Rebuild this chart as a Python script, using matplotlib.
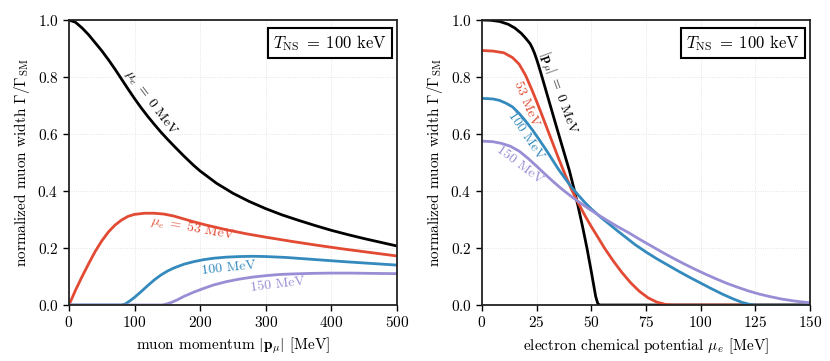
import matplotlib
matplotlib.use("Agg")
import matplotlib.pyplot as plt

plt.rcParams["font.family"] = "serif"
plt.rcParams["font.serif"] = ["cmr10", "DejaVu Serif"]
plt.rcParams["mathtext.fontset"] = "cm"
plt.rcParams["axes.formatter.use_mathtext"] = True

red = "#E24A33"
blue = "#348ABD"
purple = "#988ED5"

# left panel: width vs muon momentum, for mu_e = 0, 53, 100, 150 MeV
p0 = [0, 10, 20, 30, 40, 50, 60, 70, 80, 90, 100, 110, 120, 130, 140, 150, 160, 175, 190, 200,
      225, 250, 275, 300, 325, 350, 375, 400, 425, 450, 475, 500]
w0 = [1.0, 0.992, 0.972, 0.948, 0.92, 0.892, 0.861, 0.828, 0.793, 0.758, 0.724, 0.692, 0.662, 0.634, 0.607, 0.582, 0.558, 0.523, 0.49, 0.47,
      0.427, 0.392, 0.363, 0.338, 0.316, 0.297, 0.279, 0.262, 0.247, 0.233, 0.22, 0.207]
p53 = [0, 10, 20, 30, 40, 50, 60, 70, 80, 90, 100, 115, 130, 145, 160, 175, 190, 210, 240, 270,
       300, 340, 380, 420, 460, 500]
w53 = [0.0, 0.052, 0.1, 0.145, 0.188, 0.225, 0.256, 0.28, 0.298, 0.311, 0.318, 0.322, 0.322, 0.319, 0.312, 0.302, 0.292, 0.28, 0.264, 0.25,
       0.238, 0.223, 0.209, 0.196, 0.184, 0.172]
p100 = [0, 80, 86, 92, 100, 110, 120, 130, 140, 150, 160, 175, 190, 205, 220, 240, 260, 280, 300, 330,
        360, 390, 420, 460, 500]
w100 = [0.0, 0.0, 0.004, 0.013, 0.027, 0.047, 0.068, 0.088, 0.105, 0.119, 0.13, 0.143, 0.152, 0.159, 0.164, 0.168, 0.17, 0.171, 0.17, 0.167,
        0.162, 0.157, 0.152, 0.146, 0.14]
p150 = [0, 142, 148, 156, 165, 175, 190, 205, 220, 240, 260, 280, 300, 320, 340, 370, 400, 430, 460, 500]
w150 = [0.0, 0.0, 0.003, 0.009, 0.018, 0.03, 0.045, 0.058, 0.07, 0.082, 0.091, 0.098, 0.103, 0.107, 0.109, 0.111, 0.112, 0.112, 0.111, 0.11]

# right panel: width vs electron chemical potential, for |p_mu| = 0, 53, 100, 150 MeV
m0 = [0, 4, 8, 12, 15, 18, 20, 22, 23, 24, 25, 26, 27, 28, 30, 32, 34, 36, 38, 40,
      42, 44, 46, 48, 50, 52, 53, 54, 150]
v0 = [1.0, 0.999, 0.995, 0.985, 0.972, 0.953, 0.936, 0.917, 0.902, 0.884, 0.862, 0.838, 0.812, 0.786, 0.733, 0.68, 0.627, 0.575, 0.523, 0.471,
      0.41, 0.345, 0.275, 0.2, 0.117, 0.03, 0.004, 0.0, 0.0]
m53 = [0, 5, 10, 14, 17, 20, 23, 26, 29, 32, 35, 38, 41, 44, 47, 50, 53, 56, 60, 64,
       68, 72, 76, 80, 84, 87, 150]
v53 = [0.893, 0.891, 0.885, 0.868, 0.845, 0.805, 0.752, 0.695, 0.635, 0.575, 0.515, 0.458, 0.405, 0.358, 0.315, 0.275, 0.238, 0.2, 0.155, 0.114,
       0.078, 0.048, 0.025, 0.01, 0.002, 0.0, 0.0]
m100 = [0, 5, 8, 11, 14, 17, 20, 23, 26, 29, 32, 35, 38, 41, 44, 47, 50, 54, 58, 62,
        66, 70, 75, 80, 85, 90, 95, 100, 105, 110, 115, 119, 122, 125, 150]
v100 = [0.725, 0.723, 0.718, 0.708, 0.695, 0.672, 0.645, 0.615, 0.582, 0.548, 0.512, 0.476, 0.444, 0.413, 0.386, 0.36, 0.337, 0.31, 0.285, 0.26,
        0.236, 0.212, 0.186, 0.162, 0.14, 0.118, 0.097, 0.077, 0.057, 0.038, 0.021, 0.009, 0.003, 0.0, 0.0]
m150 = [0, 5, 9, 13, 17, 21, 25, 29, 33, 37, 41, 45, 49, 53, 57, 62, 67, 72, 77, 82,
        87, 92, 97, 102, 107, 112, 117, 122, 127, 132, 137, 142, 146, 150]
v150 = [0.575, 0.573, 0.567, 0.557, 0.54, 0.515, 0.487, 0.458, 0.43, 0.404, 0.38, 0.358, 0.337, 0.317, 0.298, 0.275, 0.254, 0.231, 0.209, 0.187,
        0.166, 0.146, 0.127, 0.109, 0.092, 0.076, 0.062, 0.049, 0.038, 0.029, 0.021, 0.015, 0.011, 0.008]

fig, (ax1, ax2) = plt.subplots(1, 2, figsize=(8.3, 3.61), dpi=100)
fig.subplots_adjust(left=0.0831, right=0.9759, bottom=0.1551, top=0.9446, wspace=0.259)

lw = 2.0
ax1.plot(p0, w0, color="black", lw=lw)
ax1.plot(p53, w53, color=red, lw=lw)
ax1.plot(p100, w100, color=blue, lw=lw)
ax1.plot(p150, w150, color=purple, lw=lw)

ax1.text(125, 0.71, r"$\mu_e\;=\;0$ MeV", rotation=-53, color="black", fontsize=10, ha="center", va="center")
ax1.text(188.5, 0.269, r"$\mu_e\;=\;53$ MeV", rotation=-10, color=red, fontsize=10, ha="center", va="center")
ax1.text(243, 0.129, "100 MeV", rotation=6, color=blue, fontsize=10, ha="center", va="center")
ax1.text(317.6, 0.07, "150 MeV", rotation=7, color=purple, fontsize=10, ha="center", va="center")

ax1.set_xlim(0, 500)
ax1.set_xlabel(r"muon momentum $|\mathbf{p}_\mu|$ [MeV]", fontsize=11)

ax2.plot(m0, v0, color="black", lw=lw)
ax2.plot(m53, v53, color=red, lw=lw)
ax2.plot(m100, v100, color=blue, lw=lw)
ax2.plot(m150, v150, color=purple, lw=lw)

ax2.text(34.6, 0.745, r"$|\mathbf{p}_\mu|\;=\;0$ MeV", rotation=-70, color="black", fontsize=10, ha="center", va="center")
ax2.text(20.2, 0.705, "53 MeV", rotation=-67, color=red, fontsize=10, ha="center", va="center")
ax2.text(20.0, 0.592, "100 MeV", rotation=-56, color=blue, fontsize=10, ha="center", va="center")
ax2.text(17.3, 0.49, "150 MeV", rotation=-37, color=purple, fontsize=10, ha="center", va="center")

ax2.set_xlim(0, 150)
ax2.set_xticks([0, 25, 50, 75, 100, 125, 150])
ax2.set_xlabel(r"electron chemical potential $\mu_e$ [MeV]", fontsize=11)

for ax in (ax1, ax2):
    ax.set_ylim(0, 1)
    ax.set_yticks([0, 0.2, 0.4, 0.6, 0.8, 1.0])
    ax.set_ylabel(r"normalized muon width $\Gamma/\Gamma_{\rm SM}$", fontsize=11)
    ax.grid(True, color="#dddddd", lw=0.6, ls=":")
    ax.set_axisbelow(True)
    ax.tick_params(labelsize=11, width=1.0, length=4)
    for s in ax.spines.values():
        s.set_linewidth(1.3)
        s.set_color("#222222")
    ax.text(0.969, 0.953, r"$T_{\rm NS}\;=\;100$ keV", transform=ax.transAxes, ha="right", va="top",
            fontsize=12, bbox=dict(boxstyle="square,pad=0.3", fc="white", ec="black", lw=1.5))

plt.savefig("out.png", dpi=100)
